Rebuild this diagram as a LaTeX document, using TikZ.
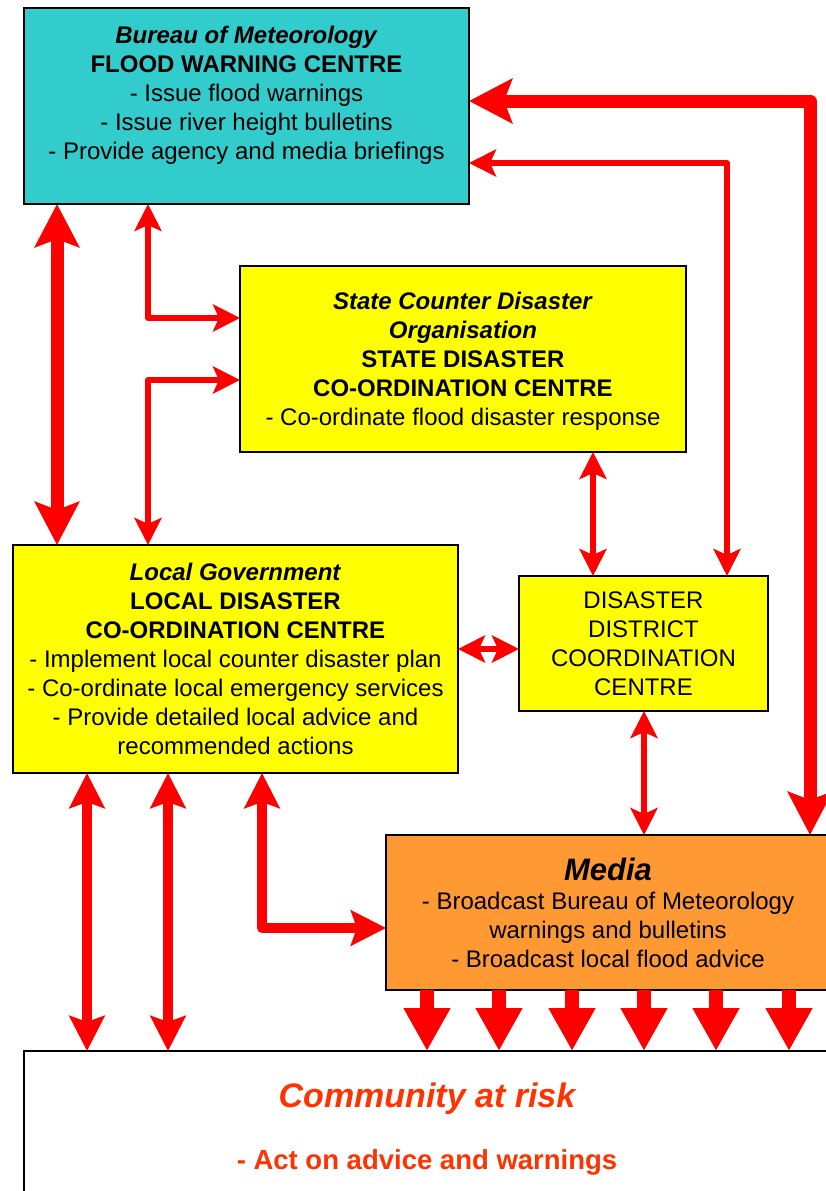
\documentclass[tikz,border=0pt]{standalone}
\usepackage{fontspec}
\setmainfont{Liberation Sans}
\usepackage{tikz}
\usetikzlibrary{arrows.meta,positioning}
\definecolor{bomcyan}{RGB}{51,204,204}
\definecolor{sdyellow}{RGB}{255,255,0}
\definecolor{mediaorange}{RGB}{255,153,51}
\definecolor{riskred}{RGB}{255,51,0}

\begin{document}
\begin{tikzpicture}[x=1pt, y=-1pt]
\tikzstyle{block} = [rectangle, draw, line width=2.5pt, align=center, inner sep=0pt, outer sep=0pt, font=\fontsize{24}{29}\selectfont]
\tikzstyle{bluebox} = [block, fill=bomcyan]
\tikzstyle{yellowbox} = [block, fill=sdyellow]
\tikzstyle{orangebox} = [block, fill=mediaorange]
\tikzstyle{riskbox} = [block, fill=white, text=riskred, font=\fontsize{34}{62}\selectfont\bfseries\itshape]
\tikzstyle{link} = [red, line width=6pt, line join=round, >={Stealth[length=27pt, width=27pt, inset=6pt]}, <->]
\tikzstyle{midlink} = [red, line width=10pt, line join=round, >={Stealth[length=35pt, width=35pt, inset=6pt]}, <->]
\tikzstyle{biglink} = [red, line width=13pt, line join=round, >={Stealth[length=43pt, width=44pt, inset=8pt]}, <->]
\tikzstyle{feed} = [red, line width=14pt, >={Triangle[length=43pt, width=44pt]}, ->]

\useasboundingbox (0,0) rectangle (826,1191);

% boxes
\node[bluebox, minimum width=445pt, text height=151pt, text depth=45pt, anchor=north west] (bom) at (24,8)
  {\textbf{\textit{Bureau of Meteorology}}\\ \textbf{FLOOD WARNING CENTRE}\\ - Issue flood warnings\\ - Issue river height bulletins\\ - Provide agency and media briefings};
\node[yellowbox, minimum width=446pt, text height=159pt, text depth=27pt, below right=62pt and 216pt of bom.south west] (state)
  {\textbf{\textit{State Counter Disaster}}\\ \textbf{\textit{Organisation}}\\ \textbf{STATE DISASTER}\\ \textbf{CO-ORDINATION CENTRE}\\ - Co-ordinate flood disaster response};
\node[yellowbox, minimum width=445pt, text height=209pt, text depth=19pt, below right=341pt and -11pt of bom.south west] (local)
  {\textbf{\textit{Local Government}}\\ \textbf{LOCAL DISASTER}\\ \textbf{CO-ORDINATION CENTRE}\\ - Implement local counter disaster plan\\ - Co-ordinate local emergency services\\ - Provide detailed local advice and\\ recommended actions};
\node[yellowbox, minimum width=249pt, text height=119pt, text depth=16pt, below right=31pt and 61pt of local.north east] (ddcc)
  {DISASTER\\ DISTRICT\\ COORDINATION\\ CENTRE};
\node[orangebox, minimum width=444pt, text height=132pt, text depth=23pt, below right=62pt and -72pt of local.south east] (media)
  {{\fontsize{31}{29}\selectfont\textbf{\textit{Media}}}\\ - Broadcast Bureau of Meteorology\\ warnings and bulletins\\ - Broadcast local flood advice};
\node[riskbox, minimum width=806pt, text height=118pt, text depth=30pt, below right=278pt and 11pt of local.south west] (community)
  {Community at risk\\ {\fontsize{27.5}{62}\selectfont\upshape - Act on advice and warnings}};

% links
\draw[biglink] (bom.south -| 57,0) -- (local.north -| 57,0);
\draw[link] (bom.south -| 148,0) |- (state.west |- 0,318);
\draw[link] (state.west |- 0,380) -| (local.north -| 148,0);
\draw[biglink] (bom.east |- 0,101) -| (media.north -| 810,0);
\draw[link] (bom.east |- 0,163) -| (ddcc.north -| 727,0);
\draw[link] (state.south -| 593,0) -- (ddcc.north -| 593,0);
\draw[link] (local.east |- 0,649) -- (ddcc.west |- 0,649);
\draw[link] (ddcc.south -| 644,0) -- (media.north -| 644,0);
\draw[midlink] (local.south -| 87,0) -- (community.north -| 87,0);
\draw[midlink] (local.south -| 168,0) -- (community.north -| 168,0);
\draw[midlink] (local.south -| 262,0) |- (media.west |- 0,928);
\foreach \x in {427,499,572,644,716,789}
  \draw[feed] (media.south -| \x,0) -- (community.north -| \x,0);
\end{tikzpicture}
\end{document}
